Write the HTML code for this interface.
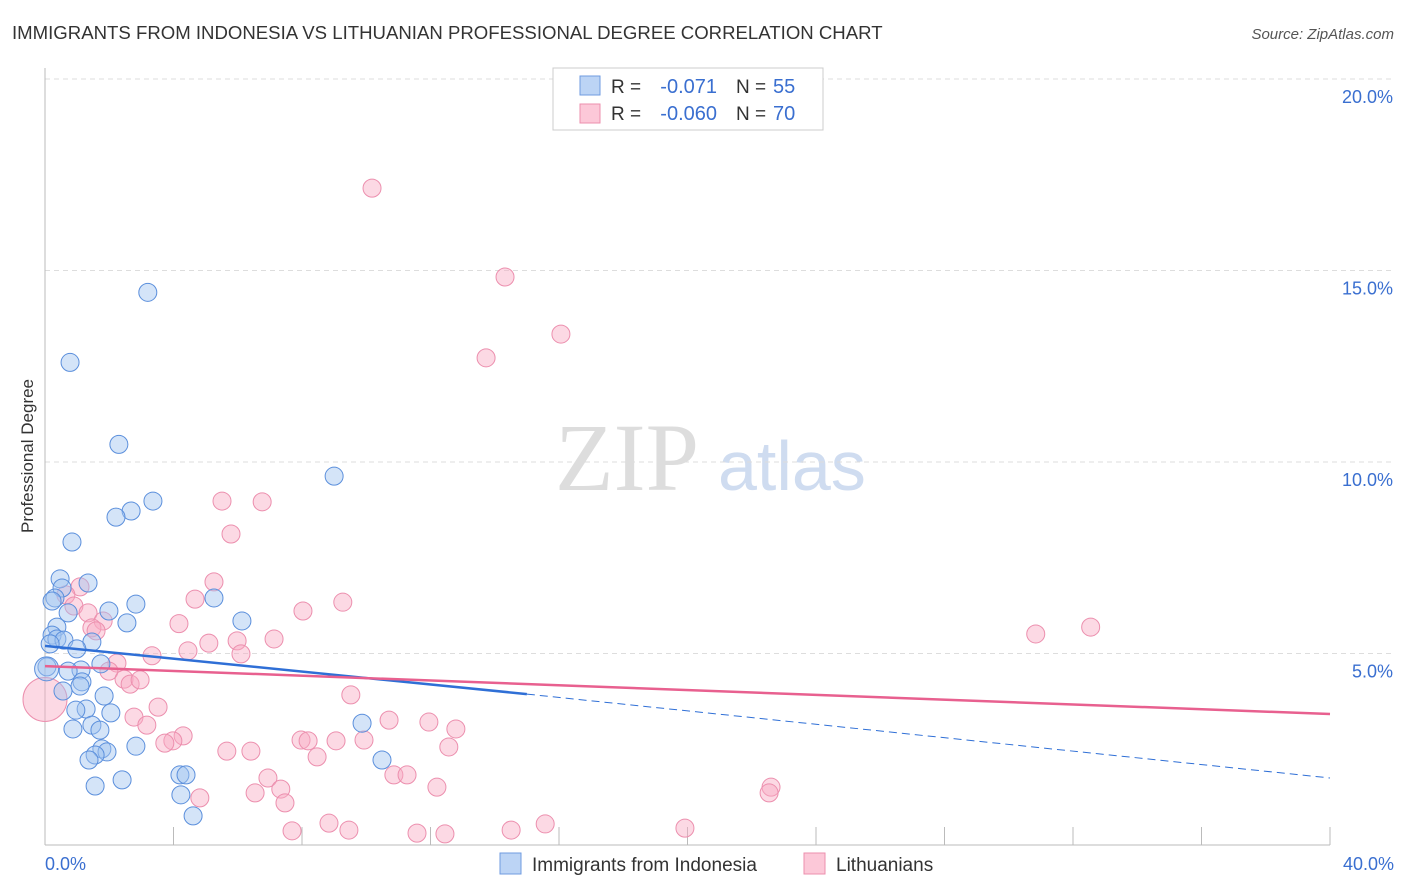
<!DOCTYPE html>
<html><head><meta charset="utf-8"><style>
body{margin:0;background:#fff;font-family:"Liberation Sans",sans-serif}
#wrap{position:relative;width:1406px;height:892px;overflow:hidden}
</style></head><body>
<div id="wrap">
<svg id="svg" width="1406" height="892" xmlns="http://www.w3.org/2000/svg">
<text x="12" y="39" font-size="18.6" fill="#333">IMMIGRANTS FROM INDONESIA VS LITHUANIAN PROFESSIONAL DEGREE CORRELATION CHART</text>
<text x="1394" y="39" font-size="15" fill="#555" font-style="italic" text-anchor="end">Source: ZipAtlas.com</text>
<text x="33" y="456" font-size="17" fill="#333" text-anchor="middle" transform="rotate(-90 33 456)">Professional Degree</text>
<text x="555" y="490" font-size="96" fill="#ddd" font-family="Liberation Serif">ZIP</text>
<text x="718" y="490" font-size="70" fill="#cfdcf0">atlas</text>
<g id="grid"></g><g id="pts"></g><g id="lines"></g>
<g>
<rect x="553" y="68" width="270" height="62" fill="#fff" stroke="#ccc"/>
<rect x="580" y="76" width="20" height="19" fill="#bcd4f5" stroke="#6f9be0"/>
<rect x="580" y="104" width="20" height="19" fill="#fcc8d8" stroke="#ec8fae"/>
<text x="611" y="93" font-size="19" fill="#333">R =</text>
<text x="717" y="93" font-size="20" fill="#3a6fd0" text-anchor="end">-0.071</text>
<text x="736" y="93" font-size="19" fill="#333">N =</text>
<text x="773" y="93" font-size="20" fill="#3a6fd0">55</text>
<text x="611" y="120" font-size="19" fill="#333">R =</text>
<text x="717" y="120" font-size="20" fill="#3a6fd0" text-anchor="end">-0.060</text>
<text x="736" y="120" font-size="19" fill="#333">N =</text>
<text x="773" y="120" font-size="20" fill="#3a6fd0">70</text>
</g>
<g>
<rect x="500" y="853" width="21" height="21" fill="#bcd4f5" stroke="#6f9be0"/>
<text x="532" y="871" font-size="19" fill="#333">Immigrants from Indonesia</text>
<rect x="804" y="853" width="21" height="21" fill="#fcc8d8" stroke="#ec8fae"/>
<text x="836" y="871" font-size="19" fill="#333">Lithuanians</text>
</g>
</svg></div>
<script>
const yTicks=[5,10,15,20];
const yTickLabels=["5.0%","10.0%","15.0%","20.0%"];
const xTicks=[0,4,8,12,16,20,24,28,32,36,40];
const blueX=[3.20,0.78,2.30,9.00,3.36,2.68,2.21,0.84,0.47,1.34,0.53,0.31,0.22,5.26,2.83,1.99,0.72,2.55,6.13,0.37,0.22,0.37,0.59,1.46,0.99,0.16,1.74,1.12,0.72,0.06,1.15,1.09,0.56,1.84,1.28,0.96,2.05,1.46,0.87,1.71,9.87,1.77,1.93,2.83,1.56,1.37,10.49,4.20,4.39,2.40,1.56,4.23,4.61];
const blueY=[14.43,12.60,10.46,9.63,8.98,8.72,8.56,7.91,6.95,6.84,6.71,6.45,6.37,6.45,6.29,6.11,6.06,5.80,5.85,5.69,5.48,5.38,5.35,5.30,5.12,5.25,4.73,4.57,4.54,4.65,4.26,4.15,4.02,3.89,3.55,3.52,3.45,3.13,3.03,3.00,3.18,2.51,2.43,2.58,2.35,2.22,2.22,1.83,1.83,1.70,1.54,1.31,0.76];
const pinkX=[10.18,14.32,16.06,13.73,5.51,6.76,5.79,5.26,1.09,0.65,4.67,9.27,8.03,0.90,1.34,1.81,1.46,4.17,1.59,30.84,32.55,5.98,5.10,7.13,4.45,6.10,3.33,2.24,1.99,2.46,2.65,2.96,9.52,3.52,2.77,3.17,10.71,11.95,12.79,4.30,3.98,3.73,7.97,8.19,9.06,9.93,5.66,6.41,8.47,12.57,6.94,7.34,10.86,11.27,12.20,22.60,22.54,4.82,6.54,7.47,7.69,8.84,9.46,11.58,12.45,14.51,15.57,19.92,0.00];
const pinkY=[17.15,14.83,13.34,12.72,8.98,8.96,8.12,6.87,6.74,6.53,6.42,6.34,6.11,6.24,6.06,5.85,5.67,5.78,5.59,5.51,5.69,5.33,5.27,5.38,5.07,4.99,4.94,4.75,4.54,4.33,4.20,4.31,3.92,3.60,3.34,3.13,3.26,3.21,3.03,2.85,2.72,2.66,2.74,2.72,2.72,2.74,2.45,2.45,2.30,2.56,1.75,1.46,1.83,1.83,1.51,1.51,1.36,1.23,1.36,1.10,0.37,0.57,0.39,0.31,0.29,0.39,0.55,0.44,3.80];
const X=v=>45+v/40*1285, Y=v=>845-v/5*191.5;
const NS="http://www.w3.org/2000/svg";
function mk(p,t,a){const e=document.createElementNS(NS,t);for(const k in a)e.setAttribute(k,a[k]);p.appendChild(e);return e;}
const grid=document.getElementById('grid');
yTicks.forEach((v,i)=>{
 const l=mk(grid,'line',{x1:45,x2:1394,y1:Y(v),y2:Y(v),stroke:'#ddd','stroke-dasharray':'5,4'});
 
 
 const t=mk(grid,'text',{x:1393,y:Y(v)+24,'font-size':18,fill:'#3a6fd0','text-anchor':'end'});t.textContent=yTickLabels[i];
 
 
});
const ax=mk(grid,'line',{x1:45,x2:45,y1:68,y2:845,stroke:'#bbb'});


const bx=mk(grid,'line',{x1:45,x2:1330,y1:845,y2:845,stroke:'#bbb'});


xTicks.forEach(v=>{const l=mk(grid,'line',{x1:X(v),x2:X(v),y1:827,y2:845,stroke:'#bbb'});
 
 });
[[0,"0.0%",'start',45],[40,"40.0%",'end',1394]].forEach(a=>{const t=mk(grid,'text',{x:a[3],y:870,'font-size':18,fill:'#3a6fd0','text-anchor':a[2]});t.textContent=a[1];
 
 });
const pts=document.getElementById('pts');
pinkX.forEach((v,i)=>{const r=i===pinkX.length-1?22:9;const c=mk(pts,'circle',{cx:X(v),cy:Y(pinkY[i]),r:r,fill:'rgba(248,170,195,0.45)',stroke:'#ec8fae','stroke-width':1});
 
 });
blueX.forEach((v,i)=>{const c=mk(pts,'circle',{cx:X(v),cy:Y(blueY[i]),r:9,fill:'rgba(160,195,240,0.45)',stroke:'#5b8fdc','stroke-width':1});
 
 });
const big=mk(pts,'circle',{cx:X(0.05),cy:Y(4.6),r:12,fill:'rgba(160,195,240,0.45)',stroke:'#5b8fdc'});


const lines=document.getElementById('lines');
const bl=mk(lines,'line',{x1:X(0),y1:Y(5.2),x2:X(15),y2:Y(3.94),stroke:'#2f6fd6','stroke-width':2.5});


const bd=mk(lines,'line',{x1:X(15),y1:Y(3.94),x2:X(40),y2:Y(1.75),stroke:'#2f6fd6','stroke-width':1,'stroke-dasharray':'8,5'});


const pl=mk(lines,'line',{x1:X(0),y1:Y(4.67),x2:X(40),y2:Y(3.42),stroke:'#e8608f','stroke-width':2.5});


</script>
</body></html>
